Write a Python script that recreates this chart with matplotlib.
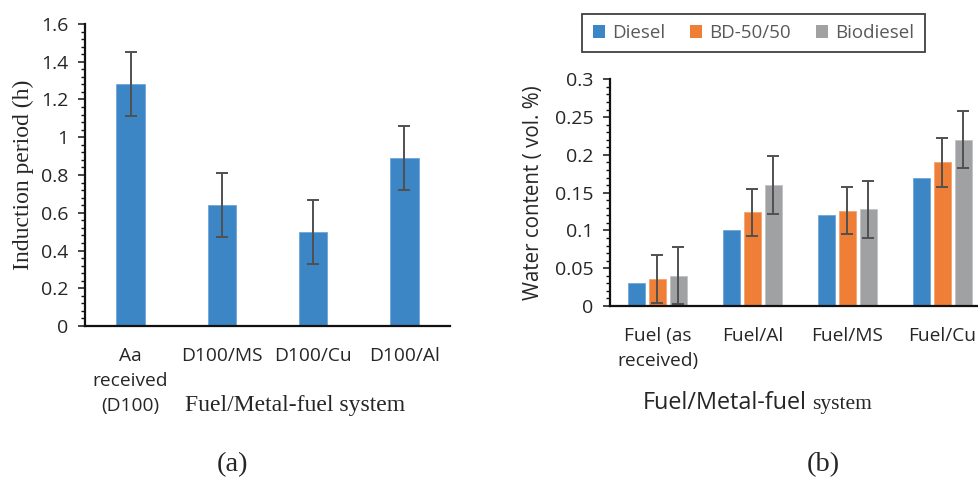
import numpy as np
import matplotlib.pyplot as plt
from matplotlib.patches import Patch
from matplotlib.ticker import MultipleLocator

SANS = 'Open Sans'
SERIF = 'Liberation Serif'
plt.rcParams['font.family'] = [SANS, 'DejaVu Sans']

# (a) induction period of D100 with metal coupons
ip_labels = ['Aa\nreceived\n(D100)', 'D100/MS', 'D100/Cu', 'D100/Al']
ip_values = [1.28, 0.64, 0.50, 0.89]
ip_errors = [0.17, 0.17, 0.17, 0.17]

# (b) water content per fuel blend
wc_labels = ['Fuel (as\nreceived)', 'Fuel/Al', 'Fuel/MS', 'Fuel/Cu']
wc_series = ['Diesel', 'BD-50/50', 'Biodiesel']
wc_diesel = [0.030, 0.100, 0.121, 0.170]
wc_bd5050 = [0.036, 0.124, 0.126, 0.190]
wc_biodiesel = [0.040, 0.160, 0.128, 0.220]
err_bd5050 = [0.032, 0.031, 0.031, 0.032]
err_biodiesel = [0.038, 0.038, 0.038, 0.038]

blue = '#3D86C6'
orange = '#EF7E37'
grey = '#9FA1A3'
err_col = '#505050'
txt_col = '#262626'

fig = plt.figure(figsize=(9.79, 4.78), dpi=100)


def style_axes(ax):
    for s in ['top', 'right']:
        ax.spines[s].set_visible(False)
    for s in ['left', 'bottom']:
        ax.spines[s].set_linewidth(1.6)
        ax.spines[s].set_color('#111111')
    ax.tick_params(axis='y', which='major', length=5, width=1.2, labelsize=14,
                   colors=txt_col, pad=7)
    ax.tick_params(axis='y', which='minor', length=3, width=1.0, colors='#111111')
    ax.tick_params(axis='x', length=0, labelsize=13.8, colors=txt_col, pad=15)


# ---- panel (a)
ax1 = fig.add_axes([85 / 979, 1 - 326 / 478, 365 / 979, 302 / 478])
x1 = np.arange(len(ip_labels))
ax1.bar(x1, ip_values, width=0.31, color=blue, edgecolor='#6FA6D8', linewidth=0.6,
        yerr=ip_errors, error_kw=dict(ecolor=err_col, elinewidth=1.4, capsize=4, capthick=1.4))
ax1.set_xlim(-0.5, 3.5)
ax1.set_ylim(0, 1.6)
ax1.set_yticks(np.arange(0, 1.61, 0.2))
ax1.set_yticklabels(['0', '0.2', '0.4', '0.6', '0.8', '1', '1.2', '1.4', '1.6'])
ax1.yaxis.set_minor_locator(MultipleLocator(0.04))
ax1.set_xticks(x1)
ax1.set_xticklabels(ip_labels, linespacing=1.5, va='top')
style_axes(ax1)
ax1.set_ylabel('Induction period (h)', family=SERIF, fontsize=17, color=txt_col, labelpad=5)
fig.text(295 / 979, 1 - 405 / 478, 'Fuel/Metal-fuel system', family=SERIF, fontsize=17,
         color=txt_col, ha='center', va='center')
fig.text(233 / 979, 1 - 465 / 478, '(a)', family=SERIF, fontsize=20.5, color=txt_col,
         ha='center', va='center')

# ---- panel (b)
ax2 = fig.add_axes([610 / 979, 1 - 306 / 478, 380 / 979, 226.7 / 478])
x2 = np.arange(len(wc_labels))
bw = 0.176
step = 0.221
ax2.bar(x2 - step, wc_diesel, width=bw, color=blue, edgecolor='#6FA6D8', linewidth=0.6)
ax2.bar(x2, wc_bd5050, width=bw, color=orange, edgecolor='#F5A470', linewidth=0.6,
        yerr=err_bd5050, error_kw=dict(ecolor=err_col, elinewidth=1.4, capsize=4, capthick=1.4))
ax2.bar(x2 + step, wc_biodiesel, width=bw, color=grey, edgecolor='#C2C3C4', linewidth=0.6,
        yerr=err_biodiesel, error_kw=dict(ecolor=err_col, elinewidth=1.4, capsize=4, capthick=1.4))
ax2.set_xlim(-0.5, 3.5)
ax2.set_ylim(0, 0.3)
ax2.set_yticks(np.arange(0, 0.301, 0.05))
ax2.set_yticklabels(['0', '0.05', '0.1', '0.15', '0.2', '0.25', '0.3'])
ax2.yaxis.set_minor_locator(MultipleLocator(0.01))
ax2.set_xticks(x2)
ax2.set_xticklabels(wc_labels, linespacing=1.5, va='top')
style_axes(ax2)
ax2.set_ylabel('Water content ( vol. %)', fontsize=14.8, color=txt_col, labelpad=8)

fig.text(807 / 979, 1 - 403 / 478, 'Fuel/Metal-fuel', fontsize=16.8, color=txt_col,
         ha='right', va='center')
fig.text(812 / 979, 1 - 405 / 478, 'system', family=SERIF, fontsize=15.5, color=txt_col,
         ha='left', va='center')
fig.text(823 / 979, 1 - 465 / 478, '(b)', family=SERIF, fontsize=20.5, color=txt_col,
         ha='center', va='center')

handles = [Patch(facecolor=c) for c in (blue, orange, grey)]
leg = fig.legend(handles, wc_series, loc='center', bbox_to_anchor=(753.5 / 979, 1 - 33 / 478),
                 ncol=3, frameon=True, fancybox=False, fontsize=13.5, handlelength=0.65,
                 handleheight=0.65, handletextpad=0.4, columnspacing=1.3, borderpad=0.55,
                 labelcolor='#595959')
leg.get_frame().set_edgecolor('#111111')
leg.get_frame().set_linewidth(1.3)

fig.savefig('out.png', dpi=100)
